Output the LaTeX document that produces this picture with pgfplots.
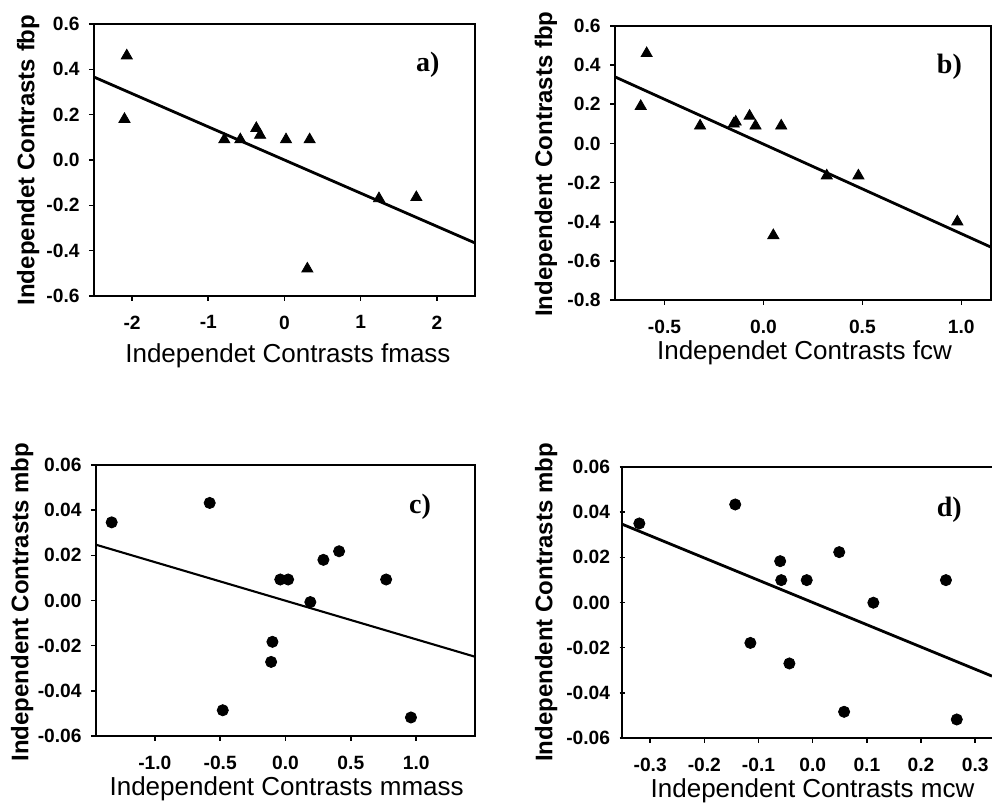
\documentclass[border=0pt]{standalone}
\usepackage{fontspec}
\setmainfont{Liberation Sans}
\newfontfamily\tnr{Liberation Serif}
\usepackage{pgfplots}
\pgfplotsset{compat=1.18}
\pgfplotsset{
  panel/.style={
    scale only axis,
    anchor=south west,
    axis line style={line width=0.9pt},
    tick align=outside, tick pos=left,
    major tick length=2.5pt,
    every tick/.style={black, line width=0.8pt},
    /pgf/number format/assume math mode=true,
    tick label style={font=\fontsize{9.6}{11}\selectfont\bfseries},
    xticklabel style={yshift=-3.8pt},
    yticklabel style={xshift=-1.2pt},
    xlabel style={font=\fontsize{13}{15}\selectfont, anchor=base},
    ylabel style={font=\fontsize{12}{14}\selectfont\bfseries, anchor=center},
    scaled ticks=false,
    clip=true,
  },
  fx1/.style={xticklabel style={/pgf/number format/fixed, /pgf/number format/fixed zerofill, /pgf/number format/precision=1}},
  fy1/.style={yticklabel style={/pgf/number format/fixed, /pgf/number format/fixed zerofill, /pgf/number format/precision=1}},
  fy2/.style={yticklabel style={/pgf/number format/fixed, /pgf/number format/fixed zerofill, /pgf/number format/precision=2}},
  tri/.style={only marks, mark=triangle*, mark size=3.2pt, black},
  dot/.style={only marks, mark=*, mark size=2.8pt, black},
  reg/.style={no marks, black, line width=1.4pt},
}
\begin{document}
\begin{tikzpicture}
\path[use as bounding box] (0,0) rectangle (496pt,401.5pt);

% ---------- a)
\begin{axis}[panel, fy1, at={(47pt,253.5pt)}, width=190.5pt, height=136pt,
  xmin=-2.5, xmax=2.5, ymin=-0.6, ymax=0.6,
  xtick={-2,-1,0,1,2},
  ytick={-0.6,-0.4,-0.2,0,0.2,0.4,0.6},
  xlabel={Independet Contrasts fmass},
  ylabel={Independet Contrasts fbp},
  xlabel style={at={(axis description cs:0.509,-0.245)}},
  ylabel style={at={(axis description cs:-0.173,0.5)}},
]
\addplot[tri] coordinates {
(-2.07,0.46) (-2.10,0.18) (-0.79,0.09) (-0.58,0.09) (-0.37,0.14)
(-0.32,0.11) (0.02,0.09) (0.33,0.09) (0.30,-0.48) (1.24,-0.17) (1.73,-0.165)
};
\addplot[reg] coordinates {(-2.5,0.366) (2.5,-0.366)};
\node[font=\tnr\bfseries\fontsize{14}{16}\selectfont] at (axis cs:1.88,0.42) {a)};
\end{axis}

% ---------- b)
\begin{axis}[panel, fx1, fy1, at={(307.5pt,251.5pt)}, width=188pt, height=137pt,
  xmin=-0.75, xmax=1.15, ymin=-0.8, ymax=0.6,
  xtick={-0.5,0,0.5,1},
  ytick={-0.8,-0.6,-0.4,-0.2,0,0.2,0.4,0.6},
  xlabel={Independet Contrasts fcw},
  ylabel={Independent Contrasts fbp},
  xlabel style={at={(axis description cs:0.504,-0.219)}},
  ylabel style={at={(axis description cs:-0.184,0.496)}},
]
\addplot[tri] coordinates {
(-0.59,0.46) (-0.62,0.19) (-0.32,0.09) (-0.15,0.10) (-0.14,0.11)
(-0.07,0.14) (-0.04,0.09) (0.09,0.09) (0.05,-0.47) (0.32,-0.165)
(0.48,-0.165) (0.98,-0.40)
};
\addplot[reg] coordinates {(-0.75,0.34) (1.15,-0.53)};
\node[font=\tnr\bfseries\fontsize{14}{16}\selectfont] at (axis cs:0.94,0.39) {b)};
\end{axis}

% ---------- c)
\begin{axis}[panel, fx1, fy2, at={(48pt,33.5pt)}, width=189.5pt, height=135.5pt,
  xmin=-1.45, xmax=1.45, ymin=-0.06, ymax=0.06,
  xtick={-1,-0.5,0,0.5,1},
  ytick={-0.06,-0.04,-0.02,0,0.02,0.04,0.06},
  xlabel={Independent Contrasts mmass},
  ylabel={Independent Contrasts mbp},
  xlabel style={at={(axis description cs:0.503,-0.221)}},
  ylabel style={at={(axis description cs:-0.195,0.494)}},
]
\addplot[dot] coordinates {
(-1.33,0.0346) (-0.58,0.0432) (-0.48,-0.0486) (-0.10,-0.0183) (-0.11,-0.0272)
(-0.04,0.0093) (0.02,0.0093) (0.19,-0.0007) (0.29,0.018) (0.41,0.0218)
(0.77,0.0093) (0.96,-0.0518)
};
\addplot[reg, line width=1.05pt] coordinates {(-1.45,0.0247) (1.45,-0.0249)};
\node[font=\tnr\bfseries\fontsize{14}{16}\selectfont] at (axis cs:1.03,0.0415) {c)};
\end{axis}

% ---------- d)
\begin{axis}[panel, fx1, fy2, at={(311pt,32.5pt)}, width=185pt, height=135.5pt,
  axis x line=box, axis y line=left, axis line style={-, line width=0.9pt},
  tick pos=left,
  xmin=-0.352, xmax=0.331, ymin=-0.06, ymax=0.06,
  xtick={-0.3,-0.2,-0.1,0,0.1,0.2,0.3},
  ytick={-0.06,-0.04,-0.02,0,0.02,0.04,0.06},
  xlabel={Independent Contrasts mcw},
  ylabel={Independent Contrasts mbp},
  xlabel style={at={(axis description cs:0.515,-0.218)}, anchor=base, font=\fontsize{13}{15}\selectfont},
  ylabel style={at={(axis description cs:-0.205,0.5)}, anchor=center, rotate=0, font=\fontsize{12}{14}\selectfont\bfseries},
]
\addplot[dot] coordinates {
(-0.32,0.035) (-0.143,0.0434) (-0.115,-0.0179) (-0.06,0.0183) (-0.058,0.0099)
(-0.043,-0.027) (-0.011,0.0099) (0.049,0.0223) (0.058,-0.0484) (0.112,-0.0001)
(0.246,0.0099) (0.266,-0.0518)
};
\addplot[reg] coordinates {(-0.352,0.0347) (0.331,-0.0326)};
\node[font=\tnr\bfseries\fontsize{14}{16}\selectfont] at (axis cs:0.252,0.041) {d)};
\end{axis}
\end{tikzpicture}
\end{document}
